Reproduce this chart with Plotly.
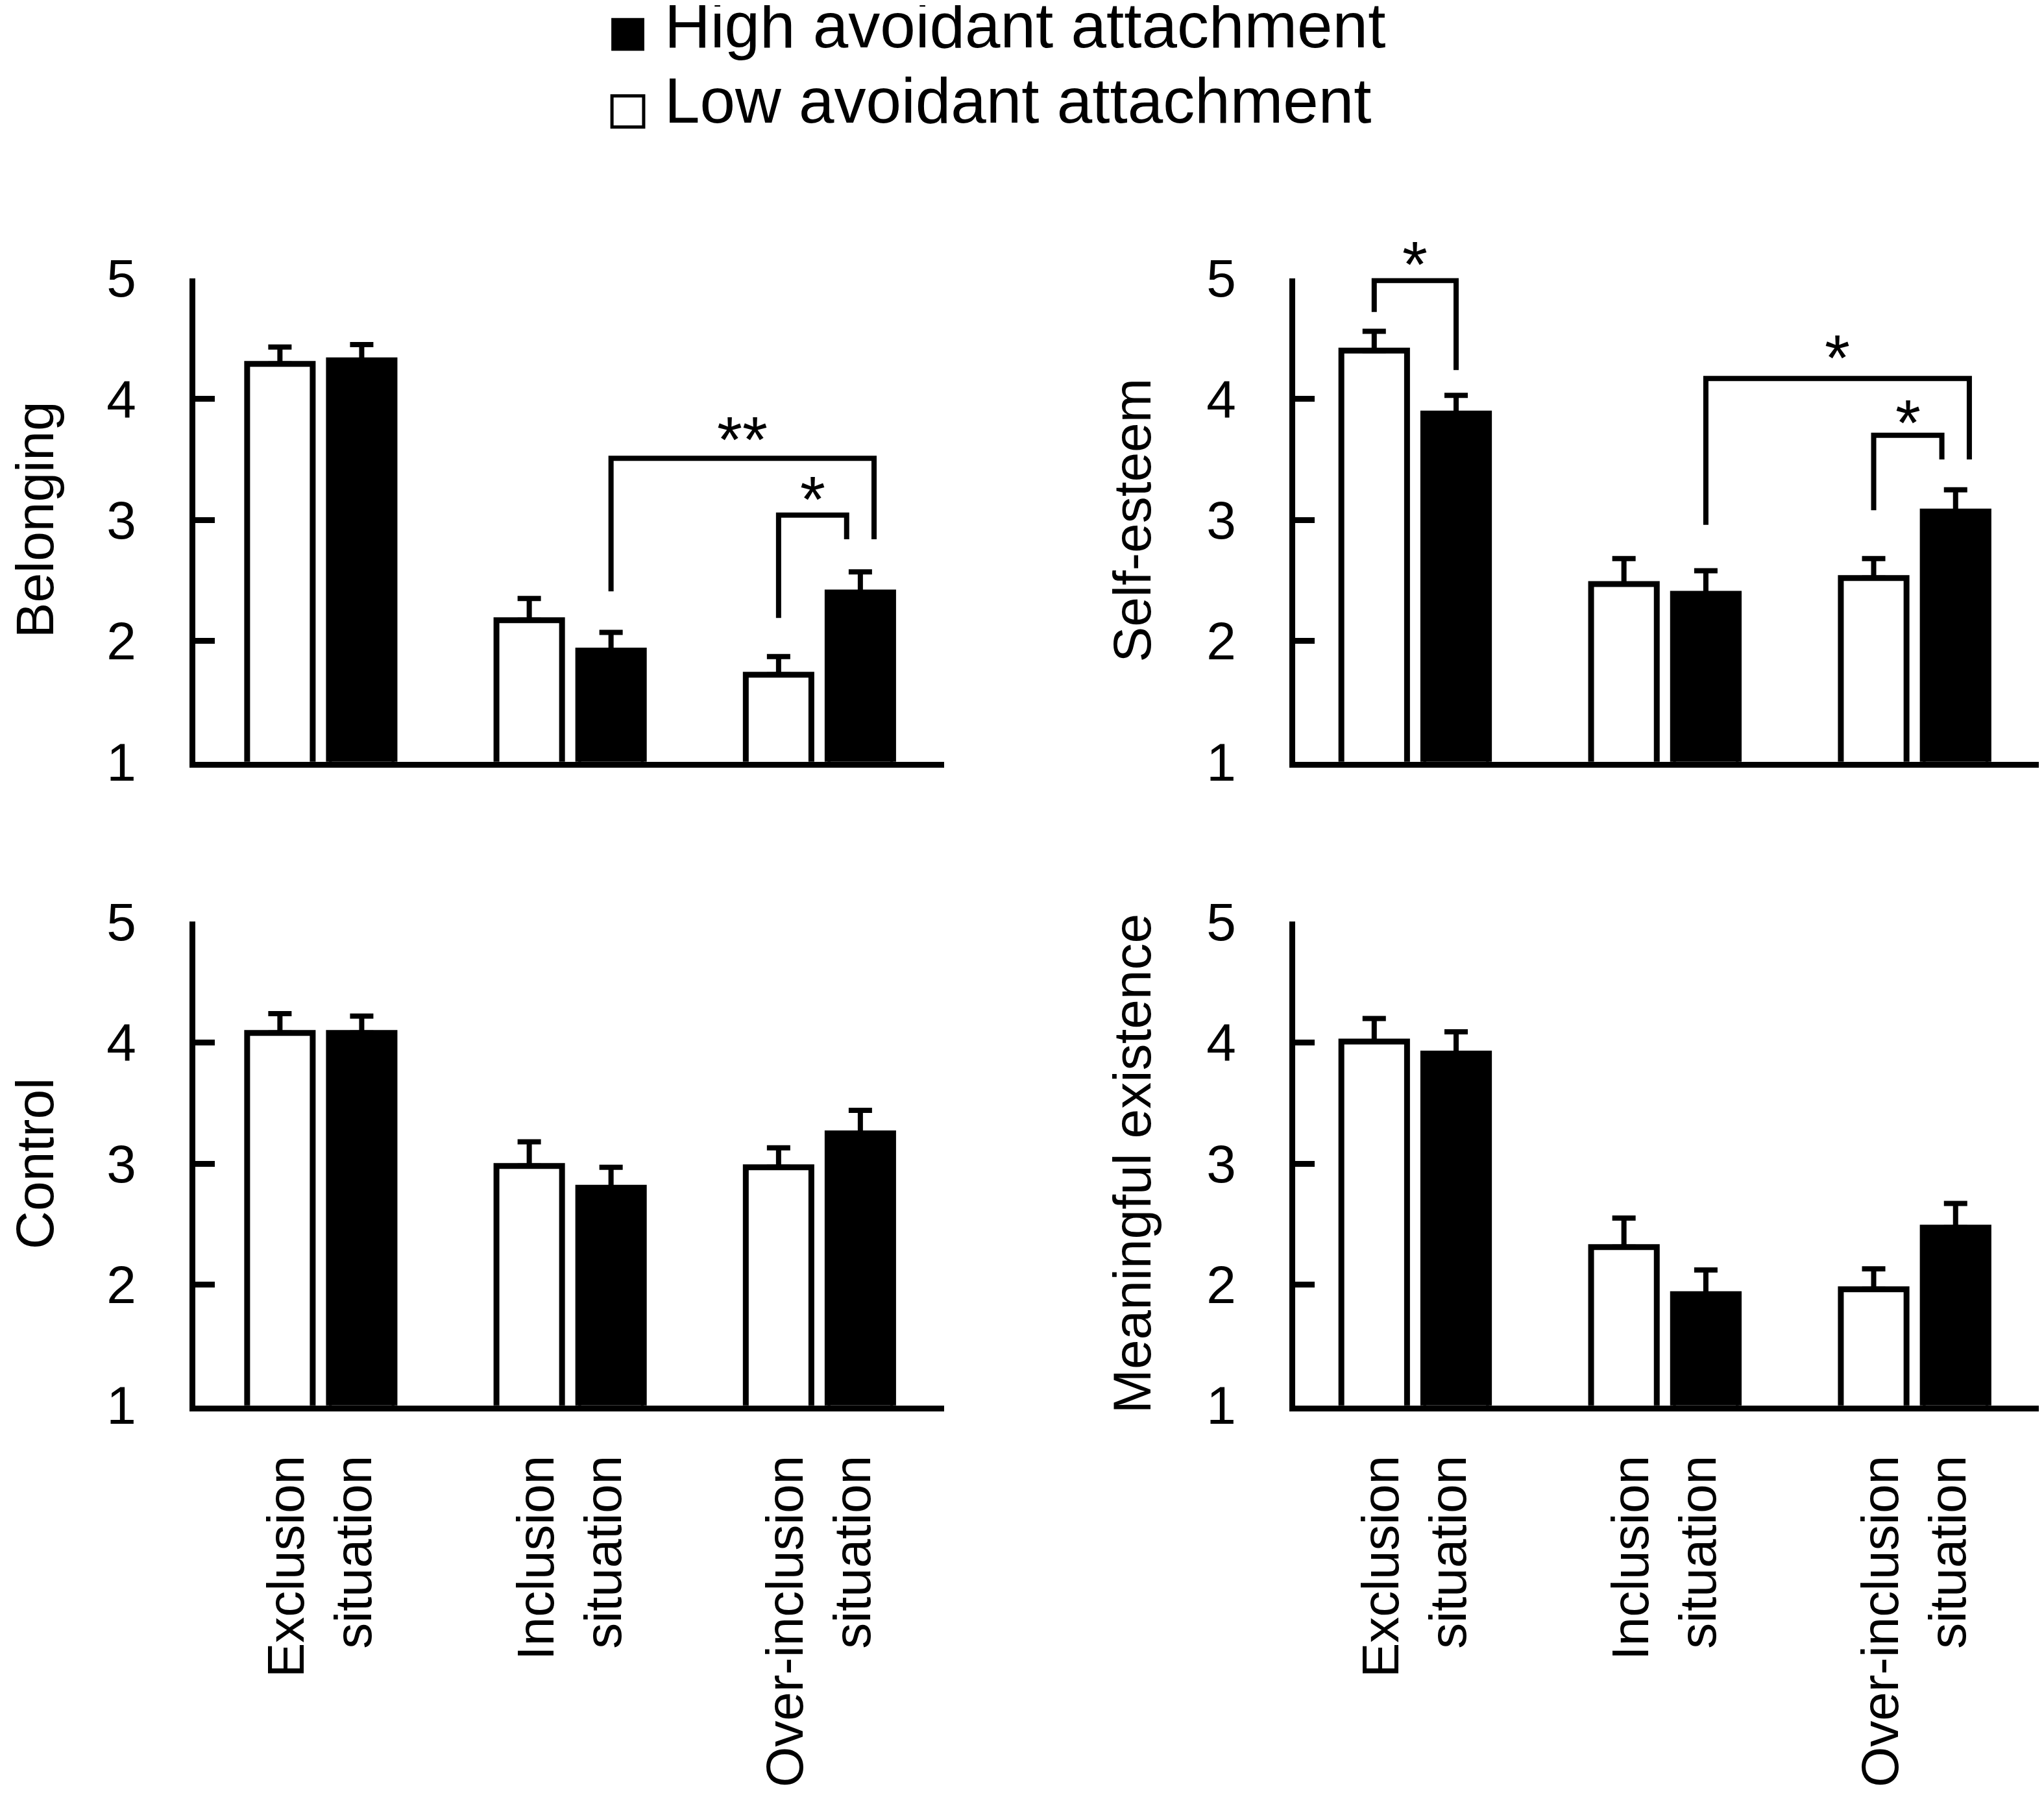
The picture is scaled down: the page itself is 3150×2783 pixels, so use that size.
import plotly.graph_objects as go

# condition labels (x axis, bottom row only)
situations = ["Exclusion<br>situation", "Inclusion<br>situation", "Over-inclusion<br>situation"]
panels = ["Belonging", "Self-esteem", "Control", "Meaningful existence"]

# mean scores: low / high avoidant attachment
low_mean = {
    "Belonging": [4.29, 2.17, 1.72],
    "Self-esteem": [4.40, 2.47, 2.52],
    "Control": [4.08, 2.98, 2.97],
    "Meaningful existence": [4.01, 2.31, 1.96],
}
high_mean = {
    "Belonging": [4.32, 1.92, 2.40],
    "Self-esteem": [3.88, 2.39, 3.07],
    "Control": [4.08, 2.80, 3.25],
    "Meaningful existence": [3.91, 1.92, 2.47],
}
# standard errors (only the upper whisker is drawn)
low_se = {
    "Belonging": [0.14, 0.18, 0.15],
    "Self-esteem": [0.16, 0.21, 0.16],
    "Control": [0.16, 0.20, 0.16],
    "Meaningful existence": [0.19, 0.24, 0.17],
}
high_se = {
    "Belonging": [0.13, 0.15, 0.17],
    "Self-esteem": [0.15, 0.19, 0.18],
    "Control": [0.14, 0.17, 0.19],
    "Meaningful existence": [0.18, 0.20, 0.20],
}

# significance brackets: (x left leg, x right leg, y left end, y top, y right end, label, label y)
brackets = {
    "Belonging": [
        (1.164, 2.219, 2.41, 3.51, 2.84, "**", 3.74),
        (1.836, 2.109, 2.19, 3.04, 2.84, "*", 3.25),
    ],
    "Self-esteem": [
        (-0.164, 0.164, 4.72, 4.98, 4.24, "*", 5.19),
        (1.164, 2.219, 2.96, 4.17, 3.50, "*", 4.42),
        (1.836, 2.109, 3.08, 3.70, 3.50, "*", 3.88),
    ],
}

FONT = "Liberation Sans, Arial, sans-serif"
W, H = 3150, 2783
BAR_W = 0.263
SHIFT = 0.164
LW = 9
# the page body has an 8px margin, pull everything back by that much
DX, DY = 8 / W, 8 / H

xdom = {0: [0.0956 - DX, 0.4619 - DX], 1: [0.6337 - DX, 0.9978 - DX]}
ydom = {0: [0.5782 + DY, 0.8460 + DY], 1: [0.2218 + DY, 0.4896 + DY]}
xrng = {0: [-0.503, 2.50], 1: [-0.48, 2.50]}
yrng = [1, 5]
title_x = {0: 0.0143, 1: 0.5512}
px_per_unit = (ydom[0][1] - ydom[0][0]) * H / (yrng[1] - yrng[0])

fig = go.Figure()
layout = dict(
    width=W, height=H,
    margin=dict(l=0, r=0, t=0, b=0, pad=0, autoexpand=False),
    paper_bgcolor="white", plot_bgcolor="white",
    showlegend=False, barmode="overlay",
    font=dict(family=FONT, size=82, color="black"),
)
annotations = []
shapes = []

for i, name in enumerate(panels):
    row, col = divmod(i, 2)
    n = "" if i == 0 else str(i + 1)
    xa, ya = "x" + n, "y" + n
    x = [0, 1, 2]
    for means, ses, fill, off in [(low_mean, low_se, "white", -SHIFT),
                                  (high_mean, high_se, "black", SHIFT)]:
        fig.add_trace(go.Bar(
            x=x, y=means[name], xaxis=xa, yaxis=ya,
            width=BAR_W, offset=off - BAR_W / 2,
            marker=dict(color=fill, line=dict(color="black", width=LW)),
            error_y=dict(type="data", symmetric=False, array=ses[name],
                         arrayminus=[0, 0, 0], color="black",
                         thickness=8, width=18),
        ))
    layout["xaxis" + n] = dict(
        domain=xdom[col], range=xrng[col], anchor=ya, automargin=False,
        showline=True, linewidth=LW, linecolor="black",
        showgrid=False, zeroline=False, ticks="",
        tickvals=x, ticktext=situations, tickangle=-90,
        showticklabels=(row == 1), ticklabelstandoff=36,
        tickfont=dict(size=80),
    )
    layout["yaxis" + n] = dict(
        domain=ydom[row], range=yrng, anchor=xa, automargin=False,
        showline=True, linewidth=LW, linecolor="black",
        showgrid=False, zeroline=False,
        tickvals=[1, 2, 3, 4, 5], ticks="inside", ticklen=30,
        tickwidth=LW, tickcolor="black", ticklabelstandoff=66,
        tickfont=dict(size=82),
    )
    annotations.append(dict(
        text=name, textangle=-90, xref="paper", yref="paper",
        x=title_x[col], y=sum(ydom[row]) / 2, xanchor="center", yanchor="middle",
        showarrow=False, font=dict(size=82),
    ))
    for xl, xr, yl, yt, yr, lab, ly in brackets.get(name, []):
        shapes.append(dict(
            type="path", xref=xa, yref=ya,
            path=f"M {xl},{yl} L {xl},{yt} L {xr},{yt} L {xr},{yr}",
            line=dict(color="black", width=8),
        ))
        # keep the anchor inside the axis range, push the rest with a pixel shift
        y_in = min(ly, yrng[1])
        annotations.append(dict(
            text=lab, xref=xa, yref=ya, x=(xl + xr) / 2, y=y_in,
            yshift=(ly - y_in) * px_per_unit - 14, showarrow=False,
            font=dict(size=100),
        ))

# legend drawn by hand (large swatches like the original)
shapes.append(dict(type="rect", xref="paper", yref="paper",
                   x0=0.2994 - DX, x1=0.3149 - DX, y0=0.9722 + DY, y1=0.9897 + DY,
                   fillcolor="black", line=dict(color="black", width=2)))
shapes.append(dict(type="rect", xref="paper", yref="paper",
                   x0=0.2994 - DX, x1=0.3149 - DX, y0=0.9297 + DY, y1=0.9469 + DY,
                   fillcolor="white", line=dict(color="black", width=5)))
for txt, yy in [("High avoidant attachment", 1.0), ("Low avoidant attachment", 0.9583)]:
    annotations.append(dict(text=txt, xref="paper", yref="paper", x=0.3245 - DX,
                            y=yy + DY + 18 / H,
                            xanchor="left", yanchor="top", showarrow=False,
                            font=dict(size=98)))

layout["annotations"] = annotations
layout["shapes"] = shapes
fig.update_layout(**layout)

fig.write_html("out.html")
